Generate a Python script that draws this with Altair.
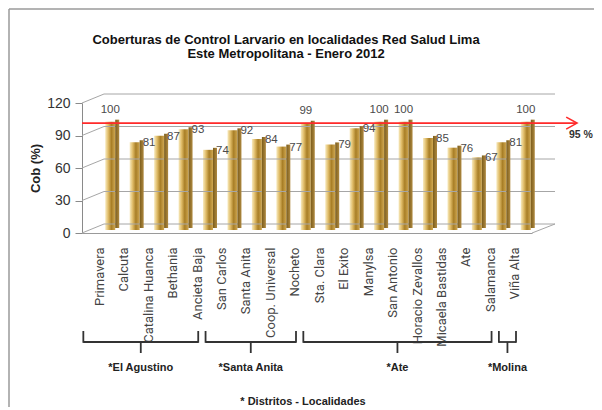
import altair as alt
import pandas as pd

# ---------------- data ----------------
names = ["Primavera", "Calcuta", "Catalina Huanca", "Bethania", "Ancieta Baja",
         "San Carlos", "Santa Anita", "Coop. Universal", "Nocheto",
         "Sta. Clara", "El Exito", "Manylsa", "San Antonio", "Horacio Zevallos",
         "Micaela Bastidas", "Ate", "Salamanca", "Viña Alta"]
values = [100, 81, 87, 93, 74, 92, 84, 77, 99, 79, 94, 100, 100, 85, 76, 67, 81, 100]
districts = (["El Agustino"] * 5 + ["Santa Anita"] * 4 + ["Ate"] * 8 + ["Molina"] * 1)
district_order = ["El Agustino", "Santa Anita", "Ate", "Molina"]
target = 95
target_label = "95 %"
y_ticks = [0, 30, 60, 90, 120]
title_lines = ["Coberturas de Control Larvario en localidades Red Salud Lima",
               "Este  Metropolitana - Enero 2012"]
y_title = "Cob (%)"
footer = "* Distritos - Localidades"

# ---------------- tables ----------------
df = pd.DataFrame({"idx": list(range(len(names))), "name": names,
                   "val": values, "grp": districts})

rows = []
for g in district_order:
    sub = df[df.grp == g]
    first, last = sub.idx.min(), sub.idx.max()
    start = first - 0.65
    end = last + 0.05
    rows.append({"grp": g, "start": start, "end": end, "mid": (start + end) / 2,
                 "lab": "*" + g})
braces = pd.DataFrame(rows)

grid_df = pd.DataFrame({"v": y_ticks})
tgt_df = pd.DataFrame({"t": [target], "lab": [target_label]})
one = pd.DataFrame({"a": [0]})

W, H = 450, 130
xs = alt.Scale(domain=[-0.5, len(names) - 0.5], nice=False, zero=False)
ys = alt.Scale(domain=[0, 120], nice=False)

labels_js = "[" + ",".join("'" + n + "'" for n in names) + "]"
x_axis = alt.Axis(values=list(range(len(names))), labelExpr=labels_js + "[datum.value]",
                  labelAngle=-90, labelFont="Roboto",
                  labelFontSize=13, labelColor="#444444", labelPadding=14,
                  ticks=False, grid=False, domain=True, domainColor="#9a9a9a",
                  labelFlush=False, labelOverlap=False, title=None)
y_axis = alt.Axis(values=y_ticks, grid=False, tickSize=7, tickColor="#8a8a8a",
                  domainColor="#8a8a8a", labelFont="Liberation Sans",
                  labelFontSize=14, labelColor="#333333", labelPadding=5,
                  labelOverlap=False, labelFlush=False,
                  title=y_title, titleFont="Liberation Sans", titleFontSize=13,
                  titleFontWeight="bold", titleColor="#222222",
                  titleX=-47, titleY=H / 2, titleAlign="center",
                  titleBaseline="middle", titleAngle=-90)


def XQ(field):
    return alt.X(field, scale=xs, axis=x_axis)


def YQ(field):
    return alt.Y(field, scale=ys, axis=y_axis)


gcol = "#a6a6a6"
grid = alt.Chart(grid_df).mark_rule(color=gcol, strokeWidth=1, yOffset=-9).encode(
    x=alt.value(22), x2=alt.value(W + 23), y=YQ("v:Q"))
conn = alt.Chart(grid_df).mark_rule(color=gcol, strokeWidth=1, y2Offset=-9).encode(
    x=alt.value(0), x2=alt.value(22), y=YQ("v:Q"), y2="v:Q")
floor_r = alt.Chart(one).mark_rule(color=gcol, strokeWidth=1, y2Offset=-9).encode(
    x=alt.value(W), x2=alt.value(W + 23), y=alt.datum(0, scale=ys, axis=y_axis),
    y2=alt.datum(0))

front_grad = alt.Gradient(
    gradient="linear", x1=0, x2=1, y1=0, y2=0,
    stops=[alt.GradientStop(offset=0, color="#f8ebc0"),
           alt.GradientStop(offset=0.3, color="#e0bc68"),
           alt.GradientStop(offset=0.62, color="#a87e26"),
           alt.GradientStop(offset=1, color="#d0a852")])
side_grad = alt.Gradient(
    gradient="linear", x1=0, x2=1, y1=0, y2=0,
    stops=[alt.GradientStop(offset=0, color="#7a5c1c"),
           alt.GradientStop(offset=1, color="#b08a40")])

front = alt.Chart(df).mark_bar(size=10, color=front_grad, xOffset=11, yOffset=-3,
                               y2Offset=-3, orient="vertical").encode(
    x=XQ("idx:Q"), y=YQ("val:Q"), y2=alt.datum(0))
side = alt.Chart(df).mark_bar(size=4, color=side_grad, xOffset=18, yOffset=-5,
                              y2Offset=-5, orient="vertical").encode(
    x=XQ("idx:Q"), y=YQ("val:Q"), y2=alt.datum(0))

lab_small = alt.Chart(df).transform_filter("datum.val < 99").mark_text(
    align="left", baseline="middle", xOffset=19, yOffset=-2, fontSize=11.5,
    font="Liberation Sans", color="#4a4a4a").encode(
    x=XQ("idx:Q"), y=YQ("val:Q"), text="val:Q")
lab_big = alt.Chart(df).transform_filter("datum.val >= 99").mark_text(
    align="center", baseline="middle", xOffset=11, yOffset=-15, fontSize=11.5,
    font="Liberation Sans", color="#4a4a4a").encode(
    x=XQ("idx:Q"), y=YQ("val:Q"), text="val:Q")

red = "#ff2a2a"
tline = alt.Chart(tgt_df).mark_rule(color=red, strokeWidth=1.6, yOffset=-7).encode(
    x=alt.value(0), x2=alt.value(W + 44), y=YQ("t:Q"))
arrow = alt.Chart(tgt_df).mark_point(shape="M-1.8,-1L0,0L-1.8,1", size=144,
                                     filled=False, color=red, strokeWidth=1.6,
                                     opacity=1, yOffset=-7).encode(
    x=alt.value(W + 45), y=YQ("t:Q"))
tlab = alt.Chart(tgt_df).mark_text(align="left", baseline="middle", fontSize=10.5,
                                   fontWeight="bold", font="Liberation Sans",
                                   color="#333333", yOffset=5).encode(
    x=alt.value(W + 37), y=YQ("t:Q"), text="lab:N")

bcol = "#333333"
b_h = alt.Chart(braces).mark_rule(color=bcol, strokeWidth=1.8).encode(
    x=XQ("start:Q"), x2="end:Q", y=alt.value(239))
b_l = alt.Chart(braces).mark_rule(color=bcol, strokeWidth=1.8).encode(
    x=XQ("start:Q"), y=alt.value(228), y2=alt.value(239.8))
b_r = alt.Chart(braces).mark_rule(color=bcol, strokeWidth=1.8).encode(
    x=XQ("end:Q"), y=alt.value(228), y2=alt.value(239.8))
b_m = alt.Chart(braces).mark_rule(color=bcol, strokeWidth=1.8).encode(
    x=XQ("mid:Q"), y=alt.value(239), y2=alt.value(250))
b_t = alt.Chart(braces).mark_text(fontSize=11, fontWeight="bold",
                                  font="Liberation Sans", color="#222222",
                                  baseline="middle").encode(
    x=XQ("mid:Q"), y=alt.value(265), text="lab:N")

foot = alt.Chart(one).mark_text(fontSize=11, fontWeight="bold", font="Liberation Sans",
                                color="#222222", baseline="middle").encode(
    x=alt.value(221), y=alt.value(299), text=alt.value(footer))
title = alt.Chart(one).mark_text(fontSize=13, fontWeight="bold", font="Liberation Sans",
                                 color="#111111", baseline="top", lineBreak="\n",
                                 lineHeight=13.5).encode(
    x=alt.value(204), y=alt.value(-69), text=alt.value("\n".join(title_lines)))

frame_l = alt.Chart(one).mark_rule(color="#9a9a9a", strokeWidth=1.5).encode(
    x=alt.value(-73), y=alt.value(-94), y2=alt.value(310))
frame_t = alt.Chart(one).mark_rule(color="#9a9a9a", strokeWidth=1.5).encode(
    x=alt.value(-73), x2=alt.value(520), y=alt.value(-94))

chart = alt.layer(
    front, frame_l, frame_t, title, grid, conn, floor_r, side, lab_small, lab_big,
    tline, arrow, tlab, b_h, b_l, b_r, b_m, b_t, foot
).properties(
    width=W, height=H,
    autosize=alt.AutoSizeParams(type="none"),
    padding={"left": 74, "top": 95, "right": 62, "bottom": 174},
    background="white",
).configure_view(stroke=None).configure_axis(labelOverlap=False)

chart.save("out.html", embed_options={"renderer": "svg", "actions": False})
